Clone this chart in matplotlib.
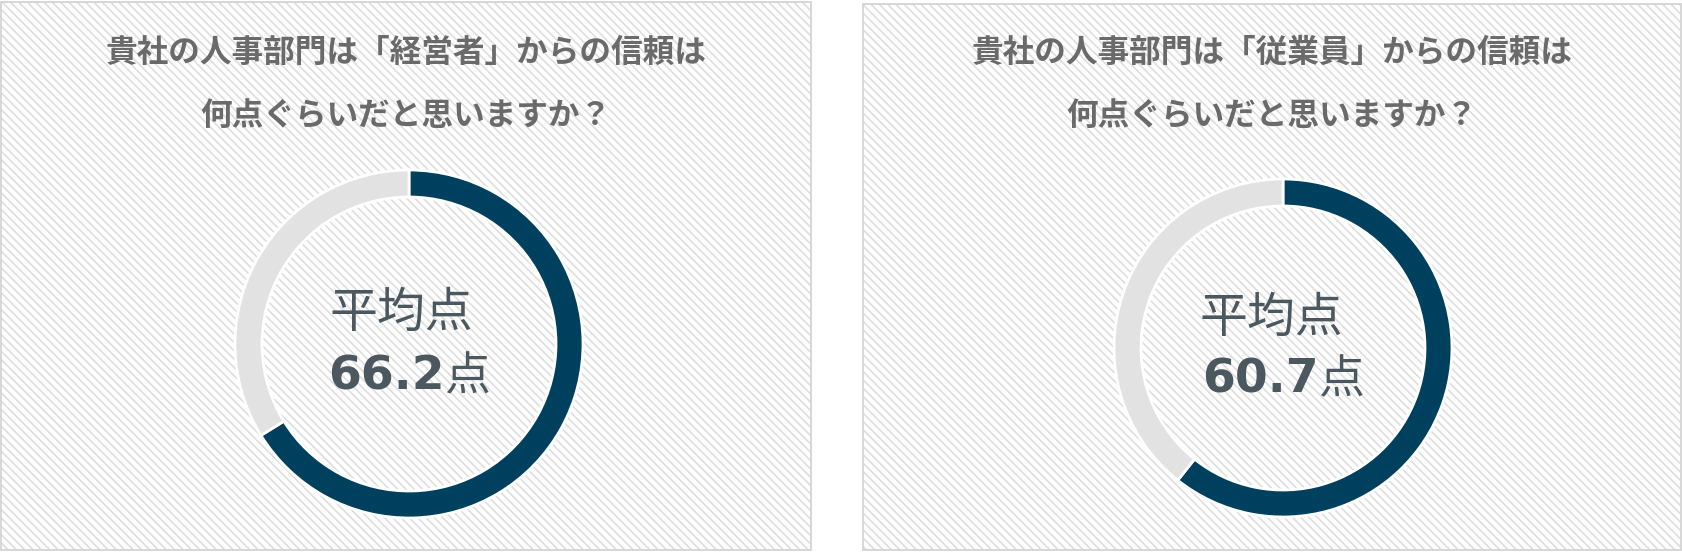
import matplotlib
matplotlib.use("Agg")
import matplotlib.pyplot as plt
from matplotlib.patches import Rectangle

# data
titles = [
    ["貴社の人事部門は「経営者」からの信頼は", "何点ぐらいだと思いますか？"],
    ["貴社の人事部門は「従業員」からの信頼は", "何点ぐらいだと思いますか？"],
]
scores = [66.2, 60.7]
full_score = 100
center_label = "平均点"
unit = "点"

plt.rcParams['font.family'] = ['Noto Sans CJK JP', 'DejaVu Sans']
plt.rcParams['hatch.linewidth'] = 1.2

W, H = 1683, 552
fig = plt.figure(figsize=(W / 100, H / 100), dpi=100)
fig.patch.set_facecolor("white")

# panel boxes in pixels (left, top, right, bottom)
panels = [(1, 2, 811, 550), (863, 4, 1681, 550)]
# donut center / radius in pixels, x offset of the label line
donuts = [(409, 344, 174, -8), (1283, 348, 169, -12)]
ring_w = 27
lim = 1.02

blue = "#00405f"
ring_gray = "#e2e2e2"
text_col = "#4b5860"
title_col = "#6a6a6a"


def px(x, y):
    return x / W, 1 - y / H


for i, (l, t, r, b) in enumerate(panels):
    x0, y1 = px(l, t)
    x1, y0 = px(r, b)
    fig.patches.append(Rectangle((x0, y0), x1 - x0, y1 - y0, transform=fig.transFigure,
                                 facecolor="white", edgecolor="#dedede", linewidth=0,
                                 hatch="\\\\\\\\", zorder=-2))
    fig.patches.append(Rectangle((x0, y0), x1 - x0, y1 - y0, transform=fig.transFigure,
                                 fill=False, edgecolor="#d4d4d4", linewidth=1.3, zorder=-1))
    cx = (l + r) / 2
    for line, ty in zip(titles[i], [53, 116]):
        fig.text(*px(cx, ty), line, ha="center", va="center", fontsize=22.8,
                 fontweight="bold", color=title_col)

text_items = []
for i, (cx, cy, rad, dx) in enumerate(donuts):
    half = rad * lim
    ax = fig.add_axes([(cx - half) / W, (H - cy - half) / H, 2 * half / W, 2 * half / H])
    ax.set_zorder(2)
    ax.pie([scores[i], full_score - scores[i]], colors=[blue, ring_gray], startangle=90,
           counterclock=False, radius=1,
           wedgeprops=dict(width=ring_w / rad, edgecolor="white", linewidth=2))
    ax.set_xlim(-lim, lim)
    ax.set_ylim(-lim, lim)
    ax.set_aspect("equal")
    ax.axis("off")
    ax.patch.set_alpha(0)
    ax.text(dx / rad, 0.175, center_label, ha="center", va="center", fontsize=34.5,
            color=text_col)
    num = ax.text(0, -0.19, "%.1f" % scores[i], ha="right", va="center", fontsize=34,
                  fontweight="bold", color=text_col, family="DejaVu Sans")
    u = ax.text(0, -0.19, unit, ha="left", va="center", fontsize=33, color=text_col)
    text_items.append((ax, num, u))

# center the mixed-weight score text
fig.canvas.draw()
renderer = fig.canvas.get_renderer()
for ax, num, u in text_items:
    wn = num.get_window_extent(renderer).width
    wu = u.get_window_extent(renderer).width
    axw = ax.get_window_extent(renderer).width
    shift = (wn - wu) / 2 / axw * 2 * lim
    num.set_x(shift)
    u.set_x(shift)

fig.savefig("out.png", dpi=100)
